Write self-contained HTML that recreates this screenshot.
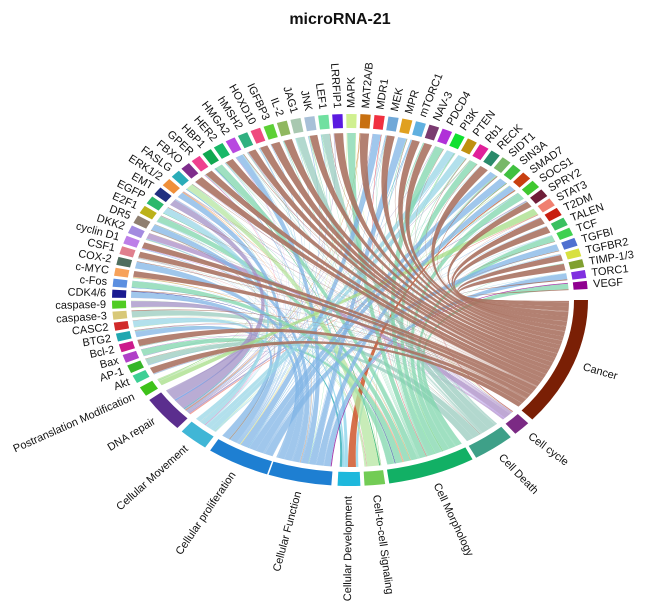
<!DOCTYPE html>
<html><head><meta charset="utf-8"><style>
html,body{margin:0;padding:0;background:#fff;}
svg{display:block;}
text{font-family:"Liberation Sans",Arial,sans-serif;fill:#111;}
</style></head><body>
<svg id="s" width="650" height="605" viewBox="0 0 650 605" xmlns="http://www.w3.org/2000/svg">
<text x="340" y="24" text-anchor="middle" style="font-weight:bold;font-size:16px">microRNA-21</text>
<g id="ch"></g><g id="rg"></g><g id="lb"></g>
</svg>
<script>
var NS="http://www.w3.org/2000/svg";
var cx=350,cy=300,RX=238,RY=186,T=14,G=5;
var IRX=RX-T,IRY=RY-T,CRX=IRX-G,CRY=IRY-G;
function P(rx,ry,t){var r=t*Math.PI/180;return [(cx+rx*Math.cos(r)).toFixed(2),(cy+ry*Math.sin(r)).toFixed(2)];}
function el(tag,attrs,parent,txt){var e=document.createElementNS(NS,tag);for(var k in attrs)e.setAttribute(k,attrs[k]);if(txt)e.textContent=txt;document.getElementById(parent).appendChild(e);return e;}
function seg(a1,a2,col){var o1=P(RX,RY,a1),o2=P(RX,RY,a2),i2=P(IRX,IRY,a2),i1=P(IRX,IRY,a1);
 el("path",{d:"M"+o1+"A"+RX+" "+RY+" 0 0 1 "+o2+"L"+i2+"A"+IRX+" "+IRY+" 0 0 0 "+i1+"Z",fill:col},"rg");}
function label(t,txt,off,fs){var p=P(RX+off,RY+off,t);var r=t*Math.PI/180;
 var phi=Math.atan2(RY*Math.sin(r),RX*Math.cos(r))*180/Math.PI; if(phi<0)phi+=360;
 var anchor,rot; if(phi>90&&phi<270){anchor="end";rot=phi-180;}else{anchor="start";rot=phi;}
 el("text",{x:p[0],y:p[1],"text-anchor":anchor,"dominant-baseline":"central",transform:"rotate("+rot.toFixed(1)+" "+p[0]+" "+p[1]+")",style:"font-size:"+fs+"px"},"lb",txt);}
var cats=[
["Cancer",0,40,"#7a1f05","#a8705e"],
["Cell cycle",41.5,46,"#7b2a84","#a98cc6"],
["Cell Death",47.5,58,"#3ea088","#98cbbd"],
["Cell Morphology",59,80.5,"#12b065","#7fd6ac"],
["Cell-to-cell Signaling",81.5,86.5,"#72cc55","#b6e6a0"],
["Cellular Development",87.5,93,"#1eb8dc","#86d2ea"],
["Cellular Function",94.5,110,"#1e7fd2","#80b4e6"],
["Cellular proliferation",110.4,126,"#1e7fd2","#80b4e6"],
["Cellular Movement",127.5,135,"#40b6d6","#98d6e6"],
["DNA repair",136.5,147.5,"#5b2e8e","#a290c6"],
["Postranslation Modification",149,152,"#3ec21a","#a6de86"]];
var genes="Akt,AP-1,Bax,Bcl-2,BTG2,CASC2,caspase-3,caspase-9,CDK4/6,c-Fos,c-MYC,COX-2,CSF1,cyclin D1,DKK2,DR5,E2F1,EGFP,EMT,ERK1/2,FASLG,FBXO,GPER,HBP1,HER2,HMGA2,hMSH2,HOXD10,IGFBP3,IL-2,JAG1,JNK,LEF1,LRRFIP1,MAPK,MAT2A/B,MDR1,MEK,MPR,mTORC1,NAV-3,PDCD4,PI3K,PTEN,Rb1,RECK,SIDT1,SIN3A,SMAD7,SOCS1,SPRY2,STAT3,T2DM,TALEN,TCF,TGFBI,TGFBR2,TIMP-1/3,TORC1,VEGF".split(",");
var gcol="#3dcf95,#35b528,#b040c8,#cc1b8c,#20a7b0,#d12a2a,#d8c878,#50cc22,#1a1a90,#5b8fe0,#f7a25a,#4f6e5e,#e07f8e,#bd7fe8,#a38be0,#8f7f70,#bcb21a,#2cb86c,#203080,#f0903a,#2aacb8,#7e2d8c,#ef4090,#10a850,#18b868,#b848e0,#30b080,#ef4a7e,#5cd035,#90b860,#a8c8b0,#a8c0d8,#70e0a0,#5a1ae0,#d0f090,#c87010,#f03040,#70a8d8,#e0a020,#60b0e0,#7a3a70,#b030d8,#10e030,#c09010,#e0209a,#2a8a6a,#78b868,#40c040,#c84010,#40c830,#701e38,#f08070,#c81e10,#3ac060,#40d050,#5070d0,#d8e040,#80a030,#8030e0,#900090,#f080d0".split(",");
var g0=153.5,step=204/60,gw=2.5;
var seed=11;function rnd(){seed=(seed*16807)%2147483647;return (seed-1)/2147483646;}
var sizes=cats.map(function(c){return c[2]-c[1];});var tot=sizes.reduce(function(a,b){return a+b;},0);
function pickCat(){var r=rnd()*(tot-40);for(var i=1;i<cats.length;i++){r-=sizes[i];if(r<=0)return i;}return 6;}
var links=[];
for(var i=0;i<60;i++){var L={};
 var prim=rnd()<0.45?0:pickCat(); L[prim]=3;
 var n=2+Math.floor(rnd()*4);for(var k=0;k<n;k++){var c=rnd()<0.25?0:pickCat();L[c]=(L[c]||0)+0.1+rnd()*0.2;}
 for(var c in L)links.push({g:i,c:+c,w:L[c]});}
for(var i=0;i<60;i++){var ls=links.filter(function(l){return l.g==i;});ls.sort(function(a,b){return b.c-a.c;});
 var s=ls.reduce(function(a,l){return a+l.w;},0);var a=g0+i*step;
 ls.forEach(function(l){l.g1=a;a+=gw*l.w/s;l.g2=a;});}
for(var c=0;c<cats.length;c++){var ls=links.filter(function(l){return l.c==c;});ls.sort(function(a,b){return b.g-a.g;});
 var s=ls.reduce(function(a,l){return a+l.w;},0);var a=cats[c][1]+0.3,span=cats[c][2]-cats[c][1]-0.6;
 ls.forEach(function(l){l.c1=a;a+=span*l.w/s;l.c2=a;});}
links.sort(function(a,b){return ((a.c==0)-(b.c==0))||(a.w-b.w);});
links.forEach(function(l){var a=P(CRX,CRY,l.g1),b=P(CRX,CRY,l.g2),c1=P(CRX,CRY,l.c1),c2=P(CRX,CRY,l.c2);
 var col=cats[l.c][4]; if(l.c!=0&&l.w<1&&rnd()<0.3)col=gcol[l.g];
 el("path",{d:"M"+a+"A"+CRX+" "+CRY+" 0 0 1 "+b+"Q"+cx+" "+cy+" "+c1+"A"+CRX+" "+CRY+" 0 0 1 "+c2+"Q"+cx+" "+cy+" "+a+"Z",fill:col,"fill-opacity":l.c==0?0.88:0.75},"ch");});
cats.forEach(function(c){seg(c[1],c[2],c[3]);});
for(var i=0;i<60;i++){var a=g0+i*step;seg(a,a+gw,gcol[i]);label(a+gw/2,genes[i],6,11);}
var cl=[20,43.7,52.7,69.7,84,90.3,102,118,131.2,142,150.5];
cats.forEach(function(c,i){label(cl[i],c[0],10,11);});
</script>
</body></html>
